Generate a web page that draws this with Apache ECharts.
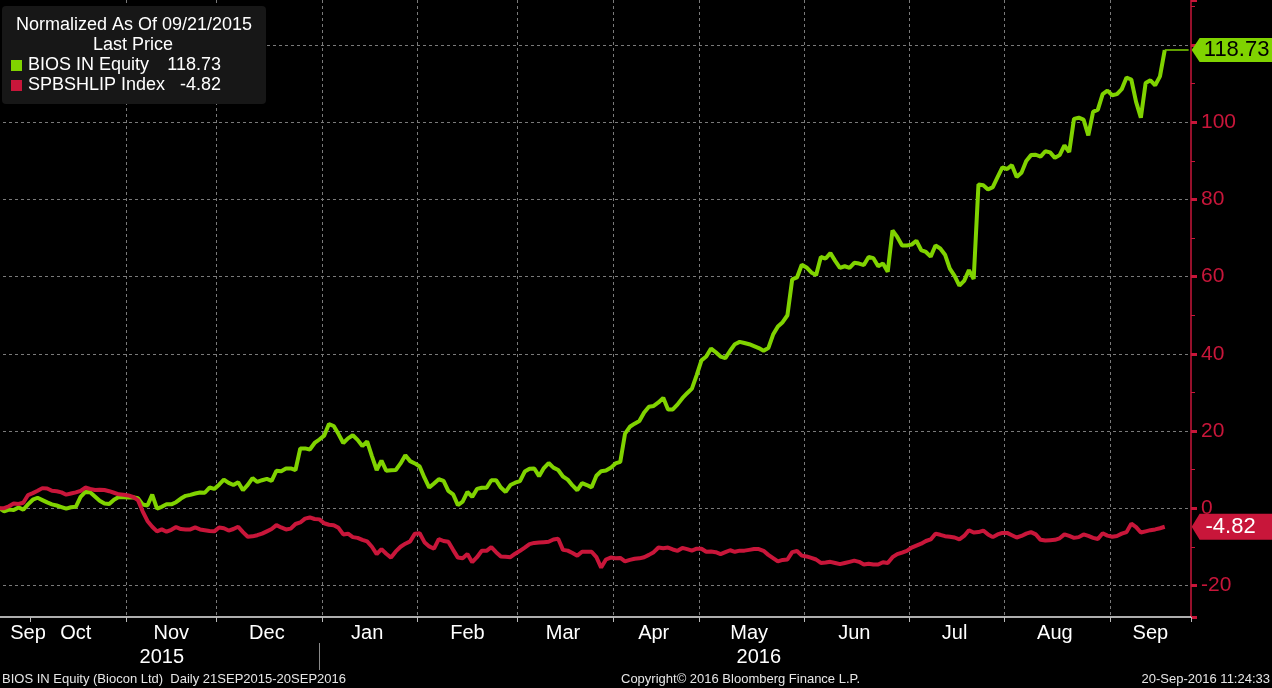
<!DOCTYPE html>
<html>
<head>
<meta charset="utf-8">
<script src="https://cdn.jsdelivr.net/npm/echarts@6/dist/echarts.min.js"></script>
<style>
html,body{margin:0;padding:0;background:#000;overflow:hidden;}
#chart{width:1272px;height:688px;}
</style>
</head>
<body>
<div id="chart"></div>
<script>
// ---- trading days (categories), per month ----
const daysSep2015 = [21,22,23,24,28,29,30];
const daysOct2015 = [1,5,6,7,8,9,12,13,14,15,16,19,20,21,23,26,27,28,29,30];
const daysNov2015 = [2,3,4,5,6,9,10,11,13,16,17,18,19,20,23,24,26,27,30];
const daysDec2015 = [1,2,3,4,7,8,9,10,11,14,15,16,17,18,21,22,23,24,28,29,30,31];
const daysJan2016 = [1,4,5,6,7,8,11,12,13,14,15,18,19,20,21,22,25,27,28,29];
const daysFeb2016 = [1,2,3,4,5,8,9,10,11,12,15,16,17,18,19,22,23,24,25,26,29];
const daysMar2016 = [1,2,3,4,8,9,10,11,14,15,16,17,18,21,22,23,28,29,30,31];
const daysApr2016 = [1,4,5,6,7,8,11,12,13,18,20,21,22,25,26,27,28,29];
const daysMay2016 = [2,3,4,5,6,9,10,11,12,13,16,17,18,19,20,23,24,25,26,27,30,31];
const daysJun2016 = [1,2,3,6,7,8,9,10,13,14,15,16,17,20,21,22,23,24,27,28,29,30];
const daysJul2016 = [1,4,5,7,8,11,12,13,14,15,18,19,20,21,22,25,26,27,28,29];
const daysAug2016 = [1,2,3,4,5,8,9,10,11,12,16,17,18,19,22,23,24,25,26,29,30,31];
const daysSep2016 = [1,2,6,7,8,9,12,14,15,16,19,20];
const tradingMonths = [
  [2015,9,daysSep2015],[2015,10,daysOct2015],[2015,11,daysNov2015],[2015,12,daysDec2015],
  [2016,1,daysJan2016],[2016,2,daysFeb2016],[2016,3,daysMar2016],[2016,4,daysApr2016],
  [2016,5,daysMay2016],[2016,6,daysJun2016],[2016,7,daysJul2016],[2016,8,daysAug2016],
  [2016,9,daysSep2016]
];
const monthNames = ['Jan','Feb','Mar','Apr','May','Jun','Jul','Aug','Sep','Oct','Nov','Dec'];

// ---- series values (normalized % change since 09/21/2015) ----
const biosValues = [
  0,-0.8,-0.35,-0.5,0.2,-0.4,1.0,2.2,2.7,2.1,
  1.5,1.0,0.7,0.3,-0.1,0.25,0.35,2.9,4.2,4.1,
  3.0,1.9,1.2,1.1,2.2,2.9,2.85,2.8,2.85,2.6,
  0.95,0.7,3.5,-0.1,0.35,1.0,1.0,1.55,2.5,3.2,
  3.45,3.8,4.05,4.0,5.35,5.0,6.1,7.4,6.55,6.0,
  6.7,4.65,6.05,7.8,6.8,7.25,7.6,7.1,9.7,9.6,
  10.3,10.3,9.9,15.5,15.5,15.2,16.9,17.8,18.8,21.8,
  21.3,19.2,16.9,18.1,18.9,17.7,16.1,17.3,13.5,9.9,
  12.35,9.7,9.85,9.9,11.6,13.7,12.2,11.6,10.8,7.9,
  5.35,6.4,7.5,7.1,4.5,3.6,0.8,1.7,4.2,2.9,
  5.0,5.3,5.3,7.25,7.25,5.35,4.2,6.0,6.6,7.0,
  9.5,10.2,10.3,8.3,10.4,11.7,10.5,9.9,8.2,7.4,
  5.9,4.65,6.5,6.0,5.4,8.4,9.6,9.75,10.45,11.6,
  12.0,19.3,21.1,21.9,22.6,24.8,26.3,26.5,27.4,28.6,
  25.6,25.6,26.9,28.5,29.8,31.0,34.5,38.3,39.3,41.4,
  40.4,39.3,38.9,40.8,42.5,43.1,42.8,42.5,42.0,41.5,
  40.8,41.5,45.0,47.1,48.2,50.0,59.3,59.8,63.1,62.4,
  61.1,60.4,65.1,64.7,66.1,64.1,62.3,62.7,62.3,63.6,
  63.4,63.0,65.1,64.8,62.7,63.4,61.3,72.0,70.3,68.1,
  68.1,68.3,69.3,66.9,66.4,65.2,68.1,67.3,65.7,62.1,
  60.2,57.7,58.9,61.7,59.4,83.9,83.7,82.6,83.2,85.8,
  88.3,87.9,88.9,85.8,86.9,90.0,91.5,91.6,91.1,92.5,
  92.2,90.8,91.5,94.0,92.3,100.9,101.2,100.7,96.6,102.7,
  103.3,107.3,108.2,107.0,107.3,108.6,111.6,111.1,105.3,101.2,
  110.2,110.9,109.6,111.9,118.73
];
const spbshlipValues = [
  0,0.0,0.5,1.2,1.1,1.4,3.4,3.9,4.5,5.2,
  5.1,4.5,4.4,4.1,3.5,3.8,4.1,4.5,5.35,5.0,
  4.7,4.8,4.7,4.4,4.0,3.6,3.5,3.3,2.9,2.1,
  -0.8,-3.3,-4.8,-6.0,-5.5,-6.1,-5.6,-4.9,-5.4,-5.5,
  -5.5,-5.0,-5.5,-5.7,-5.9,-6.0,-5.0,-5.2,-5.8,-5.4,
  -4.8,-6.2,-7.4,-7.3,-7.0,-6.6,-6.0,-5.4,-4.4,-5.0,
  -5.5,-5.3,-4.1,-3.7,-2.7,-2.4,-2.8,-2.9,-3.9,-4.3,
  -4.4,-5.1,-6.8,-6.6,-7.5,-7.7,-8.2,-8.6,-10.0,-11.9,
  -10.6,-11.8,-12.8,-11.2,-10.0,-9.2,-8.6,-6.6,-6.5,-8.8,
  -9.9,-10.5,-8.0,-8.5,-8.7,-10.8,-12.8,-13.0,-11.9,-14.0,
  -12.7,-11.05,-11.05,-10.1,-11.4,-12.5,-12.6,-12.7,-11.8,-11.05,
  -10.2,-9.3,-9.0,-8.9,-8.8,-8.7,-8.1,-7.9,-10.8,-11.0,
  -11.6,-12.3,-11.3,-11.3,-11.3,-12.7,-15.4,-13.3,-12.8,-13.0,
  -12.9,-13.8,-13.4,-13.1,-13.0,-12.7,-12.1,-11.4,-10.2,-10.4,
  -10.2,-10.7,-11.05,-10.3,-10.6,-11.0,-10.5,-10.5,-11.3,-11.2,
  -11.4,-11.9,-11.4,-10.9,-11.3,-11.0,-11.0,-10.8,-10.6,-10.6,
  -11.05,-12.1,-12.95,-13.8,-13.4,-13.3,-11.4,-11.1,-12.3,-12.5,
  -12.9,-13.3,-14.2,-14.1,-13.9,-14.2,-14.5,-14.2,-13.9,-13.6,
  -13.9,-14.6,-14.4,-14.6,-14.6,-14.0,-14.2,-12.7,-11.9,-11.5,
  -11.05,-10.2,-9.7,-9.2,-8.5,-8.1,-6.6,-6.9,-7.25,-7.4,
  -7.6,-8.1,-7.2,-5.7,-6.3,-6.2,-5.8,-6.8,-7.5,-6.8,
  -6.4,-6.4,-7.0,-7.6,-7.2,-6.6,-6.2,-6.8,-8.2,-8.4,
  -8.3,-8.2,-7.8,-6.8,-7.2,-7.7,-7.5,-6.8,-7.2,-7.7,
  -8.0,-6.5,-7.1,-7.4,-7.2,-6.6,-6.2,-4.0,-4.9,-6.3,
  -6.0,-5.7,-5.5,-5.2,-4.82
];

// ---- y axis range / texts ----
const yMin = -28.2, yMax = 131.7;
const legendTitle = 'Normalized As Of 09/21/2015';
const legendSubtitle = 'Last Price';
const seriesNames = ['BIOS IN Equity', 'SPBSHLIP Index'];
const footerLeft = 'BIOS IN Equity (Biocon Ltd)  Daily 21SEP2015-20SEP2016';
const footerMid = 'Copyright\u00A9 2016 Bloomberg Finance L.P.';
const footerRight = '20-Sep-2016 11:24:33';

// ---- build categories ----
const categories = [];
const monthStarts = [];   // [index, year, month]
tradingMonths.forEach(([y, m, days]) => {
  monthStarts.push([categories.length, y, m]);
  days.forEach(d => categories.push(y + '-' + String(m).padStart(2,'0') + '-' + String(d).padStart(2,'0')));
});
const padCount = 5;
for (let k = 0; k < padCount; k++) categories.push('');
const total = categories.length;

// month boundaries inside the plot (the very first one sits on the left edge)
const monthStartSet = new Set(monthStarts.slice(1).map(s => s[0]));
const monthLabelMap = new Map();
monthStarts.forEach((s, k) => {
  const a = s[0], b = k + 1 < monthStarts.length ? monthStarts[k+1][0] : total;
  let idx = Math.floor((a + b) / 2 - 0.5);
  if (k === 0) idx = Math.max(idx, 6);
  monthLabelMap.set(idx, monthNames[s[2]-1]);
});
const yearStarts = [];
monthStarts.forEach(s => { if (!yearStarts.length || yearStarts[yearStarts.length-1][1] !== s[1]) yearStarts.push([s[0], s[1]]); });
const yearLabelMap = new Map();
yearStarts.forEach((s, k) => {
  const a = s[0], b = k + 1 < yearStarts.length ? yearStarts[k+1][0] : total;
  yearLabelMap.set(Math.round((a + b) / 2 - 0.5), String(s[1]));
});
const yearSepIdx = yearStarts[1][0] - 1;

const GREEN = '#80d300';
const RED = '#c8163a';
const FONT = '"Liberation Sans", Arial, sans-serif';
const lastIdx = biosValues.length - 1;
const tagIdx = total - 1;
const lastBios = biosValues[lastIdx];
const lastSpb = spbshlipValues[spbshlipValues.length - 1];
const TAG = 'path://M0,12L8,0L84,0L84,24L8,24Z';

const chart = echarts.init(document.getElementById('chart'), null, {renderer: 'canvas'});
chart.setOption({
  backgroundColor: '#000',
  animation: false,
  textStyle: {fontFamily: FONT},
  grid: {left: -3, right: 81, top: 0, bottom: 71, containLabel: false, outerBoundsMode: 'none'},
  xAxis: [{
    type: 'category', data: categories, boundaryGap: true,
    axisLine: {show: true, onZero: false, lineStyle: {color: '#e8e8e8', width: 1.5}},
    axisTick: {show: true, interval: i => monthStartSet.has(i), length: 5, lineStyle: {color: '#bbbbbb', width: 1}},
    splitLine: {show: true, showMinLine: false, showMaxLine: false, interval: i => monthStartSet.has(i),
      lineStyle: {color: '#7a7a7a', width: 1, type: [3, 3]}},
    axisLabel: {show: true, interval: i => monthLabelMap.has(i), formatter: (v, i) => monthLabelMap.get(i) || '',
      color: '#ffffff', fontSize: 20, margin: 6, fontFamily: FONT}
  }, {
    type: 'category', data: categories, boundaryGap: true, position: 'bottom', offset: 26,
    axisLine: {show: false, onZero: false},
    axisTick: {show: true, alignWithLabel: true, interval: i => i === yearSepIdx, length: 27, lineStyle: {color: '#8a8a8a', width: 1}},
    splitLine: {show: false},
    axisLabel: {show: true, interval: i => yearLabelMap.has(i), formatter: (v, i) => yearLabelMap.get(i) || '',
      color: '#ffffff', fontSize: 20, margin: 4, fontFamily: FONT}
  }],
  yAxis: {
    type: 'value', position: 'right', min: yMin, max: yMax, splitNumber: 8,
    axisLine: {show: true, lineStyle: {color: RED, width: 1.5}},
    axisTick: {show: true, length: 6, lineStyle: {color: RED, width: 3}},
    minorTick: {show: true, splitNumber: 2, length: 4, lineStyle: {color: RED, width: 1}},
    splitLine: {show: true, showMinLine: false, showMaxLine: false, lineStyle: {color: '#7a7a7a', width: 1, type: [3, 3]}},
    axisLabel: {color: RED, fontSize: 21, margin: 10, showMinLabel: false, showMaxLabel: false, fontFamily: FONT,
      formatter: v => (v === 120 ? '' : String(v))}
  },
  series: [{
    name: seriesNames[0], type: 'line', data: biosValues, xAxisIndex: 0,
    showSymbol: false, symbol: 'none', z: 3,
    lineStyle: {color: GREEN, width: 4}, itemStyle: {color: GREEN},
    markLine: {silent: true, symbol: 'none', label: {show: false},
      lineStyle: {color: GREEN, width: 1.5, type: 'solid'},
      data: [[{coord: [lastIdx, lastBios]}, {coord: [tagIdx, lastBios]}]]},
    markPoint: {silent: true, symbol: TAG, symbolSize: [84, 24], symbolOffset: [45, 0],
      itemStyle: {color: GREEN},
      label: {show: true, position: 'inside', offset: [3, 0], color: '#000', fontSize: 22, fontFamily: FONT,
        formatter: p => p.value.toFixed(2)},
      data: [{coord: [tagIdx, lastBios], value: lastBios}]}
  }, {
    name: seriesNames[1], type: 'line', data: spbshlipValues, xAxisIndex: 0,
    showSymbol: false, symbol: 'none', z: 4,
    lineStyle: {color: RED, width: 4}, itemStyle: {color: RED},
    markPoint: {silent: true, symbol: TAG, symbolSize: [84, 26], symbolOffset: [45, 0],
      itemStyle: {color: RED},
      label: {show: true, position: 'inside', offset: [-3, 0], color: '#fff', fontSize: 22, fontFamily: FONT,
        formatter: p => p.value.toFixed(2)},
      data: [{coord: [tagIdx, lastSpb], value: lastSpb}]}
  }],
  graphic: [
    {type: 'rect', left: 2, top: 6, z: 100, shape: {width: 264, height: 98, r: 4}, style: {fill: '#171717'}},
    {type: 'text', x: 134, y: 25, z: 101, style: {text: legendTitle, fill: '#fff', font: '18px ' + FONT, textAlign: 'center', textVerticalAlign: 'middle'}},
    {type: 'text', x: 133, y: 45, z: 101, style: {text: legendSubtitle, fill: '#fff', font: '18px ' + FONT, textAlign: 'center', textVerticalAlign: 'middle'}},
    {type: 'rect', x: 11, y: 60, z: 101, shape: {width: 11, height: 11}, style: {fill: GREEN}},
    {type: 'text', x: 28, y: 65, z: 101, style: {text: seriesNames[0], fill: '#fff', font: '18px ' + FONT, textAlign: 'left', textVerticalAlign: 'middle'}},
    {type: 'text', x: 221, y: 65, z: 101, style: {text: lastBios.toFixed(2), fill: '#fff', font: '18px ' + FONT, textAlign: 'right', textVerticalAlign: 'middle'}},
    {type: 'rect', x: 11, y: 80, z: 101, shape: {width: 11, height: 11}, style: {fill: RED}},
    {type: 'text', x: 28, y: 85, z: 101, style: {text: seriesNames[1], fill: '#fff', font: '18px ' + FONT, textAlign: 'left', textVerticalAlign: 'middle'}},
    {type: 'text', x: 221, y: 85, z: 101, style: {text: lastSpb.toFixed(2), fill: '#fff', font: '18px ' + FONT, textAlign: 'right', textVerticalAlign: 'middle'}},
    {type: 'text', x: 2, y: 679, z: 101, style: {text: footerLeft, fill: '#e6e6e6', font: '13px ' + FONT, textAlign: 'left', textVerticalAlign: 'middle'}},
    {type: 'text', x: 621, y: 679, z: 101, style: {text: footerMid, fill: '#e6e6e6', font: '13px ' + FONT, textAlign: 'left', textVerticalAlign: 'middle'}},
    {type: 'text', x: 1270, y: 679, z: 101, style: {text: footerRight, fill: '#e6e6e6', font: '13px ' + FONT, textAlign: 'right', textVerticalAlign: 'middle'}}
  ]
});
</script>
</body>
</html>
